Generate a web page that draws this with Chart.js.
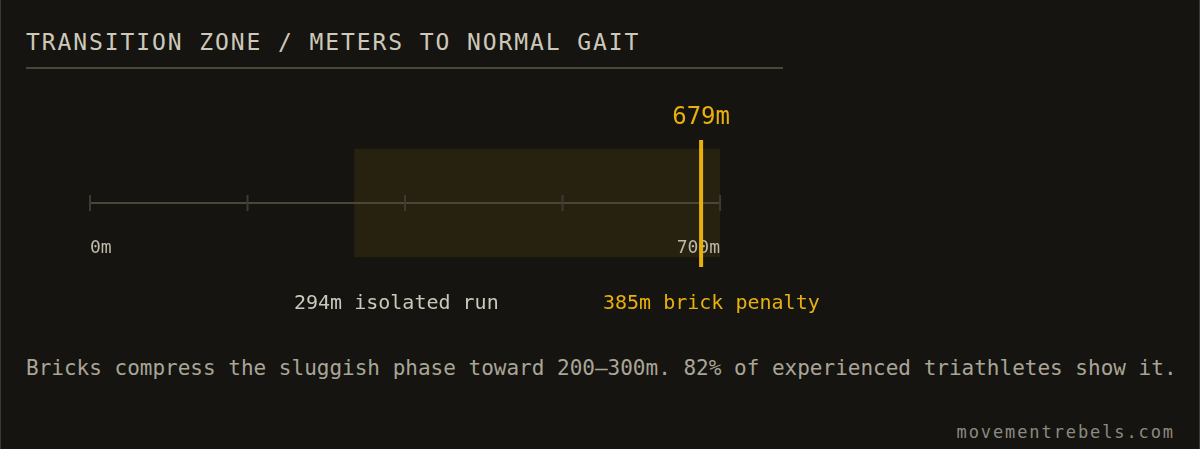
<!DOCTYPE html>
<html>
<head>
<meta charset="utf-8">
<script src="https://cdn.jsdelivr.net/npm/chart.js@4"></script>
<style>
  html, body { margin: 0; padding: 0; background: #151410; }
  #page {
    position: relative; width: 1200px; height: 449px; overflow: hidden;
    box-sizing: border-box; border-left: 1px solid #3a3934; border-right: 1px solid #3a3934;
    background: #151410; font-family: "DejaVu Sans Mono", monospace;
  }
  .txt { position: absolute; line-height: 1; white-space: nowrap; }
  #title { left: 25px; top: 31px; font-size: 23px; letter-spacing: 1.9px; color: #cdc8b9; }
  #rule { position: absolute; left: 25px; top: 67px; width: 757px; height: 2px; background: #4a4738; }
  #chart { position: absolute; left: -1px; top: 100px; }
  #lblRun { left: 293px; top: 292px; font-size: 20px; color: #cbc7ba; }
  #lblBrick { left: 602px; top: 292px; font-size: 20px; color: #e8b00c; }
  #note { left: 25px; top: 358px; font-size: 21px; color: #a9a597; }
  #foot { right: 24px; top: 424px; font-size: 17px; letter-spacing: 1.9px; color: #8d8a80; }
</style>
</head>
<body>
<div id="page">
  <div id="title" class="txt">TRANSITION ZONE / METERS TO NORMAL GAIT</div>
  <div id="rule"></div>
  <canvas id="chart" width="1200" height="206"></canvas>
  <div id="lblRun" class="txt"></div>
  <div id="lblBrick" class="txt"></div>
  <div id="note" class="txt">Bricks compress the sluggish phase toward 200–300m. 82% of experienced triathletes show it.</div>
  <div id="foot" class="txt">movementrebels.com</div>
</div>
<script>
const categories = ["distance"];
const isolatedRun = [294];
const brickPenalty = [385];
const markerValue = [679];
const axisRange = [0, 700];
const tickValues = [0, 175, 350, 525, 700];
const tickLabels = ["0m", "", "", "", "700m"];

const yellow = "#e8b00c";

document.getElementById("lblRun").textContent = isolatedRun[0] + "m isolated run";
document.getElementById("lblBrick").textContent = brickPenalty[0] + "m brick penalty";

// axis line, ticks, marker and its label
const gaitAxis = {
  id: "gaitAxis",
  afterDatasetsDraw(chart) {
    const ctx = chart.ctx;
    const x = chart.scales.x;
    const y = chart.scales.y;
    const mid = y.getPixelForValue(0);
    const x0 = x.getPixelForValue(axisRange[0]);
    const x1 = x.getPixelForValue(axisRange[1]);

    ctx.save();
    ctx.fillStyle = "#4a4738";
    ctx.fillRect(x0, mid - 1, x1 - x0, 2);

    ctx.fillStyle = "#3c3a31";
    tickValues.forEach((v) => {
      const px = x.getPixelForValue(v);
      ctx.fillRect(px - 1, mid - 8, 2, 16);
    });

    ctx.font = '18px "DejaVu Sans Mono"';
    ctx.fillStyle = "#bcb8ab";
    ctx.textBaseline = "alphabetic";
    tickValues.forEach((v, i) => {
      if (!tickLabels[i]) return;
      ctx.textAlign = i === 0 ? "left" : (i === tickValues.length - 1 ? "right" : "center");
      ctx.fillText(tickLabels[i], x.getPixelForValue(v), mid + 50);
    });

    const mx = x.getPixelForValue(markerValue[0]);
    ctx.fillStyle = yellow;
    ctx.fillRect(mx - 2, mid - 63, 4, 127);

    ctx.font = '24px "DejaVu Sans Mono"';
    ctx.textAlign = "center";
    ctx.fillText(markerValue[0] + "m", mx, mid - 79);
    ctx.restore();
  },
};

new Chart(document.getElementById("chart"), {
  type: "bar",
  data: {
    labels: categories,
    datasets: [
      {
        data: [[isolatedRun[0], axisRange[1]]],
        backgroundColor: "rgba(232,176,12,0.085)",
        borderWidth: 0,
        barThickness: 108,
      },
    ],
  },
  options: {
    indexAxis: "y",
    responsive: false,
    animation: false,
    devicePixelRatio: 1,
    layout: { padding: { left: 90, right: 480, top: 0, bottom: 0 } },
    plugins: { legend: { display: false }, tooltip: { enabled: false } },
    scales: {
      x: { display: false, min: axisRange[0], max: axisRange[1] },
      y: { display: false },
    },
  },
  plugins: [gaitAxis],
});
</script>
</body>
</html>
